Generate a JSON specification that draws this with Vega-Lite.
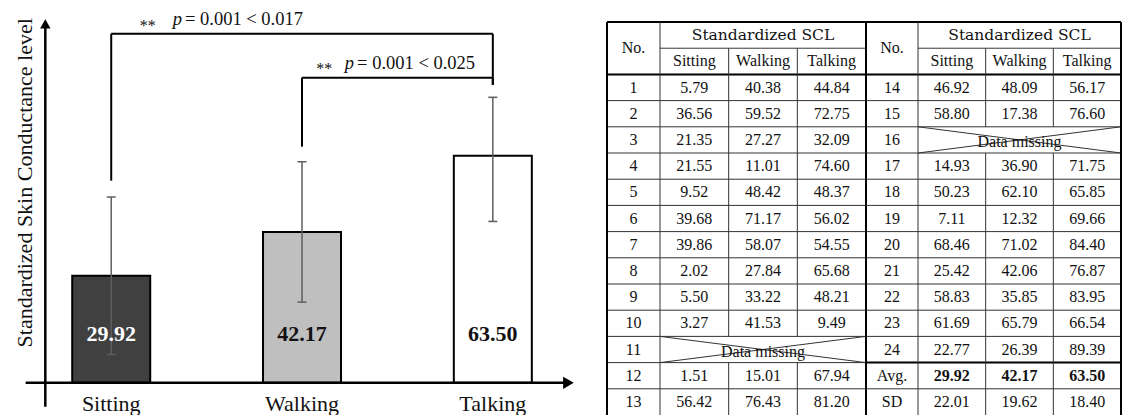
{
  "$schema": "https://vega.github.io/schema/vega-lite/v6.json",
  "padding": 0,
  "spacing": 0,
  "bounds": "flush",
  "background": "white",
  "config": {"view": {"stroke": null}, "font": "Liberation Serif", "text": {"font": "Liberation Serif", "color": "#111"}},
  "datasets": {
    "bars": [
      {"cond": "Sitting", "i": 1, "mean": 29.92, "lo": 7.91, "hi": 51.93},
      {"cond": "Walking", "i": 2, "mean": 42.17, "lo": 22.55, "hi": 61.79},
      {"cond": "Talking", "i": 3, "mean": 63.5, "lo": 45.1, "hi": 79.8}
    ],
    "sig": [
      {"a": 1, "b": 3, "top": 97.55, "aEnd": 56.5, "bEnd": 83.3},
      {"a": 2, "b": 3, "top": 85.3, "aEnd": 66.0, "bEnd": 83.3}
    ],
    "tA": [
      {"r": "1", "Sitting": 5.79, "Walking": 40.38, "Talking": 44.84},
      {"r": "2", "Sitting": 36.56, "Walking": 59.52, "Talking": 72.75},
      {"r": "3", "Sitting": 21.35, "Walking": 27.27, "Talking": 32.09},
      {"r": "4", "Sitting": 21.55, "Walking": 11.01, "Talking": 74.60},
      {"r": "5", "Sitting": 9.52, "Walking": 48.42, "Talking": 48.37},
      {"r": "6", "Sitting": 39.68, "Walking": 71.17, "Talking": 56.02},
      {"r": "7", "Sitting": 39.86, "Walking": 58.07, "Talking": 54.55},
      {"r": "8", "Sitting": 2.02, "Walking": 27.84, "Talking": 65.68},
      {"r": "9", "Sitting": 5.50, "Walking": 33.22, "Talking": 48.21},
      {"r": "10", "Sitting": 3.27, "Walking": 41.53, "Talking": 9.49},
      {"r": "11", "Sitting": null, "Walking": null, "Talking": null},
      {"r": "12", "Sitting": 1.51, "Walking": 15.01, "Talking": 67.94},
      {"r": "13", "Sitting": 56.42, "Walking": 76.43, "Talking": 81.20}
    ],
    "tB": [
      {"r": "14", "Sitting": 46.92, "Walking": 48.09, "Talking": 56.17},
      {"r": "15", "Sitting": 58.80, "Walking": 17.38, "Talking": 76.60},
      {"r": "16", "Sitting": null, "Walking": null, "Talking": null},
      {"r": "17", "Sitting": 14.93, "Walking": 36.90, "Talking": 71.75},
      {"r": "18", "Sitting": 50.23, "Walking": 62.10, "Talking": 65.85},
      {"r": "19", "Sitting": 7.11, "Walking": 12.32, "Talking": 69.66},
      {"r": "20", "Sitting": 68.46, "Walking": 71.02, "Talking": 84.40},
      {"r": "21", "Sitting": 25.42, "Walking": 42.06, "Talking": 76.87},
      {"r": "22", "Sitting": 58.83, "Walking": 35.85, "Talking": 83.95},
      {"r": "23", "Sitting": 61.69, "Walking": 65.79, "Talking": 66.54},
      {"r": "24", "Sitting": 22.77, "Walking": 26.39, "Talking": 89.39},
      {"r": "Avg.", "Sitting": 29.92, "Walking": 42.17, "Talking": 63.50},
      {"r": "SD", "Sitting": 22.01, "Walking": 19.62, "Talking": 18.40}
    ],
    "headers": [{"key": "Sitting", "r": "h2"}, {"key": "Walking", "r": "h2"}, {"key": "Talking", "r": "h2"}],
    "vA": [
      {"key": "Sitting", "a": "h1", "b": "13"},
      {"key": "Walking", "a": "h2", "b": "10"},
      {"key": "Walking", "a": "12", "b": "13"},
      {"key": "Talking", "a": "h2", "b": "10"},
      {"key": "Talking", "a": "12", "b": "13"}
    ],
    "vB": [
      {"key": "Sitting", "a": "h1", "b": "SD"},
      {"key": "Walking", "a": "h2", "b": "15"},
      {"key": "Walking", "a": "17", "b": "SD"},
      {"key": "Talking", "a": "h2", "b": "15"},
      {"key": "Talking", "a": "17", "b": "SD"}
    ],
    "missA": [{"r": "11", "from": "Sitting", "to": "Talking", "mid": "Walking"}],
    "missB": [{"r": "16", "from": "Sitting", "to": "Talking", "mid": "Walking"}]
  },
  "hconcat": [
    {
      "width": 607,
      "height": 415,
      "layer": [
        {"data": {"name": "bars"}, "mark": {"type": "bar", "width": 78, "stroke": "#000", "strokeWidth": 2},
         "encoding": {
           "x": {"field": "i", "type": "quantitative", "scale": {"domain": [0.4433, 3.5722], "nice": false, "zero": false}, "axis": null},
           "y": {"field": "mean", "type": "quantitative", "scale": {"domain": [-9, 107], "nice": false, "zero": false}, "axis": null},
           "y2": {"datum": 0},
           "fill": {"field": "cond", "type": "nominal", "scale": {"domain": ["Sitting", "Walking", "Talking"], "range": ["#404040", "#bfbfbf", "#ffffff"]}, "legend": null}}},
        {"data": {"name": "bars"}, "mark": {"type": "rule", "color": "#5e5e5e", "strokeWidth": 1.5},
         "encoding": {
           "x": {"field": "i", "type": "quantitative", "scale": {"domain": [0.4433, 3.5722], "nice": false, "zero": false}, "axis": null},
           "y": {"field": "lo", "type": "quantitative", "scale": {"domain": [-9, 107], "nice": false, "zero": false}, "axis": null},
           "y2": {"field": "hi"}}},
        {"data": {"name": "bars"}, "mark": {"type": "tick", "orient": "horizontal", "size": 9, "thickness": 1.5, "color": "#5e5e5e", "opacity": 1},
         "encoding": {
           "x": {"field": "i", "type": "quantitative", "scale": {"domain": [0.4433, 3.5722], "nice": false, "zero": false}, "axis": null},
           "y": {"field": "hi", "type": "quantitative", "scale": {"domain": [-9, 107], "nice": false, "zero": false}, "axis": null}}},
        {"data": {"name": "bars"}, "mark": {"type": "tick", "orient": "horizontal", "size": 9, "thickness": 1.5, "color": "#5e5e5e", "opacity": 1},
         "encoding": {
           "x": {"field": "i", "type": "quantitative", "scale": {"domain": [0.4433, 3.5722], "nice": false, "zero": false}, "axis": null},
           "y": {"field": "lo", "type": "quantitative", "scale": {"domain": [-9, 107], "nice": false, "zero": false}, "axis": null}}},
        {"data": {"name": "bars"}, "mark": {"type": "text", "fontSize": 22, "fontWeight": "bold", "baseline": "middle"},
         "encoding": {
           "x": {"field": "i", "type": "quantitative", "scale": {"domain": [0.4433, 3.5722], "nice": false, "zero": false}, "axis": null},
           "y": {"datum": 13.56, "type": "quantitative", "scale": {"domain": [-9, 107], "nice": false, "zero": false}, "axis": null},
           "text": {"field": "mean", "type": "quantitative", "format": ".2f"},
           "color": {"condition": {"test": "datum.cond === 'Sitting'", "value": "#ffffff"}, "value": "#111111"}}},
        {"data": {"name": "bars"}, "mark": {"type": "text", "fontSize": 22, "baseline": "alphabetic"},
         "encoding": {
           "x": {"field": "i", "type": "quantitative", "scale": {"domain": [0.4433, 3.5722], "nice": false, "zero": false}, "axis": null},
           "y": {"datum": -7.9, "type": "quantitative", "scale": {"domain": [-9, 107], "nice": false, "zero": false}, "axis": null},
           "text": {"field": "cond"}}},
        {"data": {"name": "sig"}, "mark": {"type": "rule", "color": "#000", "strokeWidth": 2},
         "encoding": {
           "x": {"field": "a", "type": "quantitative", "scale": {"domain": [0.4433, 3.5722], "nice": false, "zero": false}, "axis": null},
           "x2": {"field": "b"},
           "y": {"field": "top", "type": "quantitative", "scale": {"domain": [-9, 107], "nice": false, "zero": false}, "axis": null}}},
        {"data": {"name": "sig"}, "mark": {"type": "rule", "color": "#000", "strokeWidth": 2},
         "encoding": {
           "x": {"field": "a", "type": "quantitative", "scale": {"domain": [0.4433, 3.5722], "nice": false, "zero": false}, "axis": null},
           "y": {"field": "aEnd", "type": "quantitative", "scale": {"domain": [-9, 107], "nice": false, "zero": false}, "axis": null},
           "y2": {"field": "top"}}},
        {"data": {"name": "sig"}, "mark": {"type": "rule", "color": "#000", "strokeWidth": 2},
         "encoding": {
           "x": {"field": "b", "type": "quantitative", "scale": {"domain": [0.4433, 3.5722], "nice": false, "zero": false}, "axis": null},
           "y": {"field": "bEnd", "type": "quantitative", "scale": {"domain": [-9, 107], "nice": false, "zero": false}, "axis": null},
           "y2": {"field": "top"}}},
        {"data": {"values": [{}]}, "mark": {"type": "rule", "color": "#000", "strokeWidth": 2.5},
         "encoding": {
           "x": {"datum": 0.5515, "type": "quantitative", "scale": {"domain": [0.4433, 3.5722], "nice": false, "zero": false}, "axis": null},
           "x2": {"datum": 3.40},
           "y": {"datum": 0, "type": "quantitative", "scale": {"domain": [-9, 107], "nice": false, "zero": false}, "axis": null}}},
        {"data": {"values": [{}]}, "mark": {"type": "point", "shape": "triangle-right", "filled": true, "size": 150, "color": "#000", "opacity": 1},
         "encoding": {
           "x": {"datum": 3.3964, "type": "quantitative", "scale": {"domain": [0.4433, 3.5722], "nice": false, "zero": false}, "axis": null},
           "y": {"datum": 0, "type": "quantitative", "scale": {"domain": [-9, 107], "nice": false, "zero": false}, "axis": null}}},
        {"data": {"values": [{}]}, "mark": {"type": "rule", "color": "#000", "strokeWidth": 2.5},
         "encoding": {
           "x": {"datum": 0.6546, "type": "quantitative", "scale": {"domain": [0.4433, 3.5722], "nice": false, "zero": false}, "axis": null},
           "y": {"datum": -6.7, "type": "quantitative", "scale": {"domain": [-9, 107], "nice": false, "zero": false}, "axis": null},
           "y2": {"datum": 99.8}}},
        {"data": {"values": [{}]}, "mark": {"type": "point", "shape": "triangle-up", "filled": true, "size": 110, "color": "#000", "opacity": 1},
         "encoding": {
           "x": {"datum": 0.6546, "type": "quantitative", "scale": {"domain": [0.4433, 3.5722], "nice": false, "zero": false}, "axis": null},
           "y": {"datum": 100.33, "type": "quantitative", "scale": {"domain": [-9, 107], "nice": false, "zero": false}, "axis": null}}},
        {"data": {"values": [{}]}, "mark": {"type": "text", "text": "Standardized Skin Conductance level", "fontSize": 22, "angle": 270, "align": "center", "baseline": "middle"},
         "encoding": {
           "x": {"datum": 0.549, "type": "quantitative", "scale": {"domain": [0.4433, 3.5722], "nice": false, "zero": false}, "axis": null},
           "y": {"datum": 55.9, "type": "quantitative", "scale": {"domain": [-9, 107], "nice": false, "zero": false}, "axis": null}}},
        {"data": {"values": [{}]}, "mark": {"type": "text", "text": "= 0.001 < 0.017", "fontSize": 18.5, "align": "right", "baseline": "alphabetic"},
         "encoding": {
           "x": {"datum": 2.005, "type": "quantitative", "scale": {"domain": [0.4433, 3.5722], "nice": false, "zero": false}, "axis": null},
           "y": {"datum": 100.07, "type": "quantitative", "scale": {"domain": [-9, 107], "nice": false, "zero": false}, "axis": null}}},
        {"data": {"values": [{}]}, "mark": {"type": "text", "text": "p", "fontSize": 18.5, "fontStyle": "italic", "align": "right", "baseline": "alphabetic"},
         "encoding": {
           "x": {"datum": 1.371, "type": "quantitative", "scale": {"domain": [0.4433, 3.5722], "nice": false, "zero": false}, "axis": null},
           "y": {"datum": 100.07, "type": "quantitative", "scale": {"domain": [-9, 107], "nice": false, "zero": false}, "axis": null}}},
        {"data": {"values": [{}]}, "mark": {"type": "text", "text": "**", "fontSize": 16, "align": "center", "baseline": "alphabetic"},
         "encoding": {
           "x": {"datum": 1.191, "type": "quantitative", "scale": {"domain": [0.4433, 3.5722], "nice": false, "zero": false}, "axis": null},
           "y": {"datum": 98.3, "type": "quantitative", "scale": {"domain": [-9, 107], "nice": false, "zero": false}, "axis": null}}},
        {"data": {"values": [{}]}, "mark": {"type": "text", "text": "= 0.001 < 0.025", "fontSize": 18.5, "align": "right", "baseline": "alphabetic"},
         "encoding": {
           "x": {"datum": 2.907, "type": "quantitative", "scale": {"domain": [0.4433, 3.5722], "nice": false, "zero": false}, "axis": null},
           "y": {"datum": 87.77, "type": "quantitative", "scale": {"domain": [-9, 107], "nice": false, "zero": false}, "axis": null}}},
        {"data": {"values": [{}]}, "mark": {"type": "text", "text": "p", "fontSize": 18.5, "fontStyle": "italic", "align": "right", "baseline": "alphabetic"},
         "encoding": {
           "x": {"datum": 2.273, "type": "quantitative", "scale": {"domain": [0.4433, 3.5722], "nice": false, "zero": false}, "axis": null},
           "y": {"datum": 87.77, "type": "quantitative", "scale": {"domain": [-9, 107], "nice": false, "zero": false}, "axis": null}}},
        {"data": {"values": [{}]}, "mark": {"type": "text", "text": "**", "fontSize": 16, "align": "center", "baseline": "alphabetic"},
         "encoding": {
           "x": {"datum": 2.116, "type": "quantitative", "scale": {"domain": [0.4433, 3.5722], "nice": false, "zero": false}, "axis": null},
           "y": {"datum": 86.2, "type": "quantitative", "scale": {"domain": [-9, 107], "nice": false, "zero": false}, "axis": null}}}
      ]
    },
    {
      "width": 53,
      "height": 415,
      "layer": [
        {"data": {"name": "tA"}, "mark": {"type": "text", "fontSize": 16, "baseline": "middle"},
         "encoding": {
           "y": {"field": "r", "type": "nominal", "scale": {"domain": ["h1", "h2", "1", "2", "3", "4", "5", "6", "7", "8", "9", "10", "11", "12", "13"], "paddingInner": 0, "paddingOuter": 0.42, "align": 1}, "axis": null},
           "text": {"field": "r"}}},
        {"data": {"values": [{"r": "h1", "t": "No."}]}, "mark": {"type": "text", "fontSize": 16, "baseline": "middle"},
         "encoding": {
           "y": {"field": "r", "type": "nominal", "bandPosition": 1, "scale": {"domain": ["h1", "h2", "1", "2", "3", "4", "5", "6", "7", "8", "9", "10", "11", "12", "13"], "paddingInner": 0, "paddingOuter": 0.42, "align": 1}, "axis": null},
           "text": {"field": "t"}}},
        {"data": {"name": "tA"}, "mark": {"type": "rule"},
         "encoding": {
           "y": {"field": "r", "type": "nominal", "bandPosition": 0, "scale": {"domain": ["h1", "h2", "1", "2", "3", "4", "5", "6", "7", "8", "9", "10", "11", "12", "13"], "paddingInner": 0, "paddingOuter": 0.42, "align": 1}, "axis": null},
           "strokeWidth": {"condition": {"test": "datum.r === '1'", "value": 2}, "value": 1},
           "color": {"condition": {"test": "datum.r === '1'", "value": "#000"}, "value": "#333"}}},
        {"data": {"values": [{"r": "h1"}]}, "mark": {"type": "rule", "color": "#000", "strokeWidth": 2},
         "encoding": {
           "y": {"field": "r", "type": "nominal", "bandPosition": 0, "scale": {"domain": ["h1", "h2", "1", "2", "3", "4", "5", "6", "7", "8", "9", "10", "11", "12", "13"], "paddingInner": 0, "paddingOuter": 0.42, "align": 1}, "axis": null}}},
        {"data": {"values": [{"a": "h1", "b": "13"}]}, "mark": {"type": "rule", "color": "#000", "strokeWidth": 2},
         "encoding": {
           "x": {"value": 0},
           "y": {"field": "a", "type": "nominal", "bandPosition": 0, "scale": {"domain": ["h1", "h2", "1", "2", "3", "4", "5", "6", "7", "8", "9", "10", "11", "12", "13"], "paddingInner": 0, "paddingOuter": 0.42, "align": 1}, "axis": null},
           "y2": {"field": "b", "bandPosition": 1}}}
      ]
    },
    {
      "width": 206,
      "height": 415,
      "layer": [
        {"data": {"name": "tA"}, "transform": [{"fold": ["Sitting", "Walking", "Talking"], "as": ["key", "value"]}, {"filter": "isValid(datum.value)"}],
         "mark": {"type": "text", "fontSize": 16, "baseline": "middle"},
         "encoding": {
           "x": {"field": "key", "type": "nominal", "scale": {"domain": ["Sitting", "Walking", "Talking"], "paddingInner": 0, "paddingOuter": 0}, "axis": null},
           "y": {"field": "r", "type": "nominal", "scale": {"domain": ["h1", "h2", "1", "2", "3", "4", "5", "6", "7", "8", "9", "10", "11", "12", "13"], "paddingInner": 0, "paddingOuter": 0.42, "align": 1}, "axis": null},
           "text": {"field": "value", "type": "quantitative", "format": ".2f"}}},
        {"data": {"name": "headers"}, "mark": {"type": "text", "fontSize": 16, "baseline": "middle"},
         "encoding": {
           "x": {"field": "key", "type": "nominal", "scale": {"domain": ["Sitting", "Walking", "Talking"], "paddingInner": 0, "paddingOuter": 0}, "axis": null},
           "y": {"field": "r", "type": "nominal", "scale": {"domain": ["h1", "h2", "1", "2", "3", "4", "5", "6", "7", "8", "9", "10", "11", "12", "13"], "paddingInner": 0, "paddingOuter": 0.42, "align": 1}, "axis": null},
           "text": {"field": "key"}}},
        {"data": {"values": [{"key": "Walking", "r": "h1", "t": "Standardized SCL"}]}, "mark": {"type": "text", "font": "DejaVu Serif", "fontSize": 15.5, "baseline": "middle"},
         "encoding": {
           "x": {"field": "key", "type": "nominal", "scale": {"domain": ["Sitting", "Walking", "Talking"], "paddingInner": 0, "paddingOuter": 0}, "axis": null},
           "y": {"field": "r", "type": "nominal", "scale": {"domain": ["h1", "h2", "1", "2", "3", "4", "5", "6", "7", "8", "9", "10", "11", "12", "13"], "paddingInner": 0, "paddingOuter": 0.42, "align": 1}, "axis": null},
           "text": {"field": "t"}}},
        {"data": {"name": "missA"}, "mark": {"type": "rule", "color": "#333", "strokeWidth": 1},
         "encoding": {
           "x": {"field": "from", "type": "nominal", "bandPosition": 0, "scale": {"domain": ["Sitting", "Walking", "Talking"], "paddingInner": 0, "paddingOuter": 0}, "axis": null},
           "x2": {"field": "to", "bandPosition": 1},
           "y": {"field": "r", "type": "nominal", "bandPosition": 0, "scale": {"domain": ["h1", "h2", "1", "2", "3", "4", "5", "6", "7", "8", "9", "10", "11", "12", "13"], "paddingInner": 0, "paddingOuter": 0.42, "align": 1}, "axis": null},
           "y2": {"field": "r", "bandPosition": 1}}},
        {"data": {"name": "missA"}, "mark": {"type": "rule", "color": "#333", "strokeWidth": 1},
         "encoding": {
           "x": {"field": "from", "type": "nominal", "bandPosition": 0, "scale": {"domain": ["Sitting", "Walking", "Talking"], "paddingInner": 0, "paddingOuter": 0}, "axis": null},
           "x2": {"field": "to", "bandPosition": 1},
           "y": {"field": "r", "type": "nominal", "bandPosition": 1, "scale": {"domain": ["h1", "h2", "1", "2", "3", "4", "5", "6", "7", "8", "9", "10", "11", "12", "13"], "paddingInner": 0, "paddingOuter": 0.42, "align": 1}, "axis": null},
           "y2": {"field": "r", "bandPosition": 0}}},
        {"data": {"name": "missA"}, "mark": {"type": "text", "text": "Data missing", "fontSize": 16, "baseline": "middle", "dy": 2},
         "encoding": {
           "x": {"field": "mid", "type": "nominal", "scale": {"domain": ["Sitting", "Walking", "Talking"], "paddingInner": 0, "paddingOuter": 0}, "axis": null},
           "y": {"field": "r", "type": "nominal", "scale": {"domain": ["h1", "h2", "1", "2", "3", "4", "5", "6", "7", "8", "9", "10", "11", "12", "13"], "paddingInner": 0, "paddingOuter": 0.42, "align": 1}, "axis": null}}},
        {"data": {"name": "tA"}, "mark": {"type": "rule"},
         "encoding": {
           "y": {"field": "r", "type": "nominal", "bandPosition": 0, "scale": {"domain": ["h1", "h2", "1", "2", "3", "4", "5", "6", "7", "8", "9", "10", "11", "12", "13"], "paddingInner": 0, "paddingOuter": 0.42, "align": 1}, "axis": null},
           "strokeWidth": {"condition": {"test": "datum.r === '1'", "value": 2}, "value": 1},
           "color": {"condition": {"test": "datum.r === '1'", "value": "#000"}, "value": "#333"}}},
        {"data": {"values": [{"r": "h1"}]}, "mark": {"type": "rule", "color": "#000", "strokeWidth": 2},
         "encoding": {
           "y": {"field": "r", "type": "nominal", "bandPosition": 0, "scale": {"domain": ["h1", "h2", "1", "2", "3", "4", "5", "6", "7", "8", "9", "10", "11", "12", "13"], "paddingInner": 0, "paddingOuter": 0.42, "align": 1}, "axis": null}}},
        {"data": {"values": [{"r": "h2"}]}, "mark": {"type": "rule", "color": "#333", "strokeWidth": 1},
         "encoding": {
           "y": {"field": "r", "type": "nominal", "bandPosition": 0, "scale": {"domain": ["h1", "h2", "1", "2", "3", "4", "5", "6", "7", "8", "9", "10", "11", "12", "13"], "paddingInner": 0, "paddingOuter": 0.42, "align": 1}, "axis": null}}},
        {"data": {"name": "vA"}, "mark": {"type": "rule", "color": "#333", "strokeWidth": 1},
         "encoding": {
           "x": {"field": "key", "type": "nominal", "bandPosition": 0, "scale": {"domain": ["Sitting", "Walking", "Talking"], "paddingInner": 0, "paddingOuter": 0}, "axis": null},
           "y": {"field": "a", "type": "nominal", "bandPosition": 0, "scale": {"domain": ["h1", "h2", "1", "2", "3", "4", "5", "6", "7", "8", "9", "10", "11", "12", "13"], "paddingInner": 0, "paddingOuter": 0.42, "align": 1}, "axis": null},
           "y2": {"field": "b", "bandPosition": 1}}},
        {"data": {"values": [{"key": "Talking", "a": "h1", "b": "13"}]}, "mark": {"type": "rule", "color": "#000", "strokeWidth": 2},
         "encoding": {
           "x": {"field": "key", "type": "nominal", "bandPosition": 1, "scale": {"domain": ["Sitting", "Walking", "Talking"], "paddingInner": 0, "paddingOuter": 0}, "axis": null},
           "y": {"field": "a", "type": "nominal", "bandPosition": 0, "scale": {"domain": ["h1", "h2", "1", "2", "3", "4", "5", "6", "7", "8", "9", "10", "11", "12", "13"], "paddingInner": 0, "paddingOuter": 0.42, "align": 1}, "axis": null},
           "y2": {"field": "b", "bandPosition": 1}}}
      ]
    },
    {
      "width": 52,
      "height": 415,
      "layer": [
        {"data": {"name": "tB"}, "mark": {"type": "text", "fontSize": 16, "baseline": "middle"},
         "encoding": {
           "y": {"field": "r", "type": "nominal", "scale": {"domain": ["h1", "h2", "14", "15", "16", "17", "18", "19", "20", "21", "22", "23", "24", "Avg.", "SD"], "paddingInner": 0, "paddingOuter": 0.42, "align": 1}, "axis": null},
           "text": {"field": "r"}}},
        {"data": {"values": [{"r": "h1", "t": "No."}]}, "mark": {"type": "text", "fontSize": 16, "baseline": "middle"},
         "encoding": {
           "y": {"field": "r", "type": "nominal", "bandPosition": 1, "scale": {"domain": ["h1", "h2", "14", "15", "16", "17", "18", "19", "20", "21", "22", "23", "24", "Avg.", "SD"], "paddingInner": 0, "paddingOuter": 0.42, "align": 1}, "axis": null},
           "text": {"field": "t"}}},
        {"data": {"name": "tB"}, "mark": {"type": "rule"},
         "encoding": {
           "y": {"field": "r", "type": "nominal", "bandPosition": 0, "scale": {"domain": ["h1", "h2", "14", "15", "16", "17", "18", "19", "20", "21", "22", "23", "24", "Avg.", "SD"], "paddingInner": 0, "paddingOuter": 0.42, "align": 1}, "axis": null},
           "strokeWidth": {"condition": {"test": "datum.r === '14' || datum.r === 'Avg.'", "value": 2}, "value": 1},
           "color": {"condition": {"test": "datum.r === '14' || datum.r === 'Avg.'", "value": "#000"}, "value": "#333"}}},
        {"data": {"values": [{"r": "h1"}]}, "mark": {"type": "rule", "color": "#000", "strokeWidth": 2},
         "encoding": {
           "y": {"field": "r", "type": "nominal", "bandPosition": 0, "scale": {"domain": ["h1", "h2", "14", "15", "16", "17", "18", "19", "20", "21", "22", "23", "24", "Avg.", "SD"], "paddingInner": 0, "paddingOuter": 0.42, "align": 1}, "axis": null}}}
      ]
    },
    {
      "width": 203,
      "height": 415,
      "layer": [
        {"data": {"name": "tB"}, "transform": [{"filter": "datum.r !== 'Avg.'"}, {"fold": ["Sitting", "Walking", "Talking"], "as": ["key", "value"]}, {"filter": "isValid(datum.value)"}],
         "mark": {"type": "text", "fontSize": 16, "baseline": "middle"},
         "encoding": {
           "x": {"field": "key", "type": "nominal", "scale": {"domain": ["Sitting", "Walking", "Talking"], "paddingInner": 0, "paddingOuter": 0}, "axis": null},
           "y": {"field": "r", "type": "nominal", "scale": {"domain": ["h1", "h2", "14", "15", "16", "17", "18", "19", "20", "21", "22", "23", "24", "Avg.", "SD"], "paddingInner": 0, "paddingOuter": 0.42, "align": 1}, "axis": null},
           "text": {"field": "value", "type": "quantitative", "format": ".2f"}}},
        {"data": {"name": "tB"}, "transform": [{"filter": "datum.r === 'Avg.'"}, {"fold": ["Sitting", "Walking", "Talking"], "as": ["key", "value"]}],
         "mark": {"type": "text", "fontSize": 16, "fontWeight": "bold", "baseline": "middle"},
         "encoding": {
           "x": {"field": "key", "type": "nominal", "scale": {"domain": ["Sitting", "Walking", "Talking"], "paddingInner": 0, "paddingOuter": 0}, "axis": null},
           "y": {"field": "r", "type": "nominal", "scale": {"domain": ["h1", "h2", "14", "15", "16", "17", "18", "19", "20", "21", "22", "23", "24", "Avg.", "SD"], "paddingInner": 0, "paddingOuter": 0.42, "align": 1}, "axis": null},
           "text": {"field": "value", "type": "quantitative", "format": ".2f"}}},
        {"data": {"name": "headers"}, "mark": {"type": "text", "fontSize": 16, "baseline": "middle"},
         "encoding": {
           "x": {"field": "key", "type": "nominal", "scale": {"domain": ["Sitting", "Walking", "Talking"], "paddingInner": 0, "paddingOuter": 0}, "axis": null},
           "y": {"field": "r", "type": "nominal", "scale": {"domain": ["h1", "h2", "14", "15", "16", "17", "18", "19", "20", "21", "22", "23", "24", "Avg.", "SD"], "paddingInner": 0, "paddingOuter": 0.42, "align": 1}, "axis": null},
           "text": {"field": "key"}}},
        {"data": {"values": [{"key": "Walking", "r": "h1", "t": "Standardized SCL"}]}, "mark": {"type": "text", "font": "DejaVu Serif", "fontSize": 15.5, "baseline": "middle"},
         "encoding": {
           "x": {"field": "key", "type": "nominal", "scale": {"domain": ["Sitting", "Walking", "Talking"], "paddingInner": 0, "paddingOuter": 0}, "axis": null},
           "y": {"field": "r", "type": "nominal", "scale": {"domain": ["h1", "h2", "14", "15", "16", "17", "18", "19", "20", "21", "22", "23", "24", "Avg.", "SD"], "paddingInner": 0, "paddingOuter": 0.42, "align": 1}, "axis": null},
           "text": {"field": "t"}}},
        {"data": {"name": "missB"}, "mark": {"type": "rule", "color": "#333", "strokeWidth": 1},
         "encoding": {
           "x": {"field": "from", "type": "nominal", "bandPosition": 0, "scale": {"domain": ["Sitting", "Walking", "Talking"], "paddingInner": 0, "paddingOuter": 0}, "axis": null},
           "x2": {"field": "to", "bandPosition": 1},
           "y": {"field": "r", "type": "nominal", "bandPosition": 0, "scale": {"domain": ["h1", "h2", "14", "15", "16", "17", "18", "19", "20", "21", "22", "23", "24", "Avg.", "SD"], "paddingInner": 0, "paddingOuter": 0.42, "align": 1}, "axis": null},
           "y2": {"field": "r", "bandPosition": 1}}},
        {"data": {"name": "missB"}, "mark": {"type": "rule", "color": "#333", "strokeWidth": 1},
         "encoding": {
           "x": {"field": "from", "type": "nominal", "bandPosition": 0, "scale": {"domain": ["Sitting", "Walking", "Talking"], "paddingInner": 0, "paddingOuter": 0}, "axis": null},
           "x2": {"field": "to", "bandPosition": 1},
           "y": {"field": "r", "type": "nominal", "bandPosition": 1, "scale": {"domain": ["h1", "h2", "14", "15", "16", "17", "18", "19", "20", "21", "22", "23", "24", "Avg.", "SD"], "paddingInner": 0, "paddingOuter": 0.42, "align": 1}, "axis": null},
           "y2": {"field": "r", "bandPosition": 0}}},
        {"data": {"name": "missB"}, "mark": {"type": "text", "text": "Data missing", "fontSize": 16, "baseline": "middle", "dy": 2},
         "encoding": {
           "x": {"field": "mid", "type": "nominal", "scale": {"domain": ["Sitting", "Walking", "Talking"], "paddingInner": 0, "paddingOuter": 0}, "axis": null},
           "y": {"field": "r", "type": "nominal", "scale": {"domain": ["h1", "h2", "14", "15", "16", "17", "18", "19", "20", "21", "22", "23", "24", "Avg.", "SD"], "paddingInner": 0, "paddingOuter": 0.42, "align": 1}, "axis": null}}},
        {"data": {"name": "tB"}, "mark": {"type": "rule"},
         "encoding": {
           "y": {"field": "r", "type": "nominal", "bandPosition": 0, "scale": {"domain": ["h1", "h2", "14", "15", "16", "17", "18", "19", "20", "21", "22", "23", "24", "Avg.", "SD"], "paddingInner": 0, "paddingOuter": 0.42, "align": 1}, "axis": null},
           "strokeWidth": {"condition": {"test": "datum.r === '14' || datum.r === 'Avg.'", "value": 2}, "value": 1},
           "color": {"condition": {"test": "datum.r === '14' || datum.r === 'Avg.'", "value": "#000"}, "value": "#333"}}},
        {"data": {"values": [{"r": "h1"}]}, "mark": {"type": "rule", "color": "#000", "strokeWidth": 2},
         "encoding": {
           "y": {"field": "r", "type": "nominal", "bandPosition": 0, "scale": {"domain": ["h1", "h2", "14", "15", "16", "17", "18", "19", "20", "21", "22", "23", "24", "Avg.", "SD"], "paddingInner": 0, "paddingOuter": 0.42, "align": 1}, "axis": null}}},
        {"data": {"values": [{"r": "h2"}]}, "mark": {"type": "rule", "color": "#333", "strokeWidth": 1},
         "encoding": {
           "y": {"field": "r", "type": "nominal", "bandPosition": 0, "scale": {"domain": ["h1", "h2", "14", "15", "16", "17", "18", "19", "20", "21", "22", "23", "24", "Avg.", "SD"], "paddingInner": 0, "paddingOuter": 0.42, "align": 1}, "axis": null}}},
        {"data": {"name": "vB"}, "mark": {"type": "rule", "color": "#333", "strokeWidth": 1},
         "encoding": {
           "x": {"field": "key", "type": "nominal", "bandPosition": 0, "scale": {"domain": ["Sitting", "Walking", "Talking"], "paddingInner": 0, "paddingOuter": 0}, "axis": null},
           "y": {"field": "a", "type": "nominal", "bandPosition": 0, "scale": {"domain": ["h1", "h2", "14", "15", "16", "17", "18", "19", "20", "21", "22", "23", "24", "Avg.", "SD"], "paddingInner": 0, "paddingOuter": 0.42, "align": 1}, "axis": null},
           "y2": {"field": "b", "bandPosition": 1}}},
        {"data": {"values": [{"key": "Talking", "a": "h1", "b": "SD"}]}, "mark": {"type": "rule", "color": "#000", "strokeWidth": 2},
         "encoding": {
           "x": {"field": "key", "type": "nominal", "bandPosition": 1, "scale": {"domain": ["Sitting", "Walking", "Talking"], "paddingInner": 0, "paddingOuter": 0}, "axis": null},
           "y": {"field": "a", "type": "nominal", "bandPosition": 0, "scale": {"domain": ["h1", "h2", "14", "15", "16", "17", "18", "19", "20", "21", "22", "23", "24", "Avg.", "SD"], "paddingInner": 0, "paddingOuter": 0.42, "align": 1}, "axis": null},
           "y2": {"field": "b", "bandPosition": 1}}}
      ]
    }
  ]
}
